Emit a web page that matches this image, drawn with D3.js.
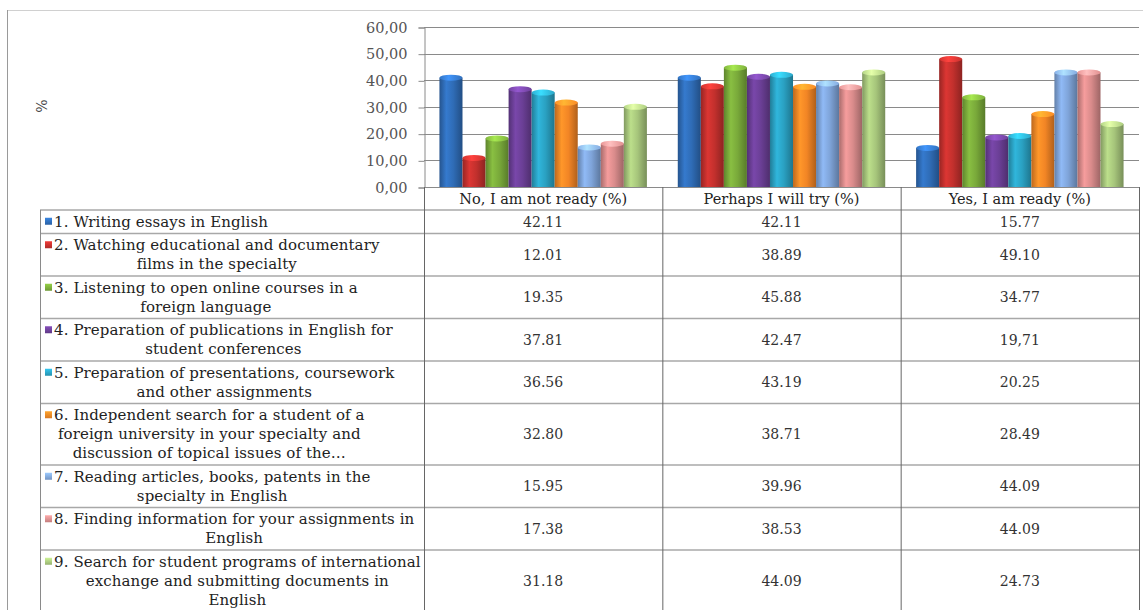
<!DOCTYPE html>
<html>
<head>
<meta charset="utf-8">
<script src="https://cdn.jsdelivr.net/npm/d3@7"></script>
<style>
  html, body { margin: 0; padding: 0; background: #fff; }
  svg { display: block; }
</style>
</head>
<body>
<svg id="chart" width="1143" height="610"></svg>
<script>
// Response categories (columns of the data table / bar groups)
const categories = ["No, I am not ready (%)", "Perhaps I will try (%)", "Yes, I am ready (%)"];

// Activities (series), as wrapped lines of the row labels
const activities = [
  ["1. Writing essays in English"],
  ["2. Watching educational and documentary", "films in the specialty"],
  ["3. Listening to open online courses in a", "foreign language"],
  ["4. Preparation of publications in English for", "student conferences"],
  ["5. Preparation of presentations, coursework", "and other assignments"],
  ["6. Independent search for a student of a", "foreign university in your specialty and", "discussion of topical issues of the\u2026"],
  ["7. Reading articles, books, patents in the", "specialty in English"],
  ["8. Finding information for your assignments in", "English"],
  ["9. Search for student programs of international", "exchange and submitting documents in", "English"]
];

// Percentages as printed in the table, one array per category
const notReady = ["42.11", "12.01", "19.35", "37.81", "36.56", "32.80", "15.95", "17.38", "31.18"];
const perhaps  = ["42.11", "38.89", "45.88", "42.47", "43.19", "38.71", "39.96", "38.53", "44.09"];
const ready    = ["15.77", "49.10", "34.77", "19,71", "20.25", "28.49", "44.09", "44.09", "24.73"];

// Value axis ticks
const yTicks = [0, 10, 20, 30, 40, 50, 60];

const seriesColors = ["#2f6cb6", "#c2302d", "#79a93a", "#6b3f96", "#2aa1c2", "#f28525", "#7fa4d9", "#d98b8b", "#a6c57b"];

const columns = [notReady, perhaps, ready];
const parseVal = s => +s.replace(",", ".");

const svg = d3.select("#chart");
const defs = svg.append("defs");

// Layout
const plot = { left: 424, right: 1139, top: 27, bottom: 187 };
const table = { left: 40, headerBottom: 210, lineH: 19, pad: 4.5 };
const serif = "'DejaVu Serif', serif";

// Outer frame
svg.append("line").attr("x1", 7).attr("x2", 1143).attr("y1", 10.5).attr("y2", 10.5)
  .attr("stroke", "#d0d0d0").attr("stroke-width", 1);
svg.append("line").attr("x1", 7.5).attr("x2", 7.5).attr("y1", 10).attr("y2", 610)
  .attr("stroke", "#9a9a9a").attr("stroke-width", 1);

// Scales
const x0 = d3.scaleBand().domain(d3.range(categories.length)).range([plot.left, plot.right]);
const x1 = d3.scaleBand().domain(d3.range(activities.length)).range([0, x0.bandwidth()]).paddingOuter(0.67);
const y = d3.scaleLinear().domain([0, 60]).range([plot.bottom, plot.top]);

const fmtTick = d3.formatLocale({ decimal: ",", thousands: " ", grouping: [3], currency: ["", ""] }).format(".2f");

// Gridlines
svg.append("g").selectAll("line").data(yTicks).join("line")
  .attr("x1", plot.left).attr("x2", plot.right)
  .attr("y1", d => Math.round(y(d)) + 0.5).attr("y2", d => Math.round(y(d)) + 0.5)
  .attr("stroke", "#8a8a8a").attr("stroke-width", 1);

// Value axis
const yAxis = d3.axisLeft(y).tickValues(yTicks).tickFormat(fmtTick).tickSize(6).tickPadding(11);
const gy = svg.append("g").attr("transform", `translate(${plot.left + 0.5},0.5)`).call(yAxis);
gy.select(".domain").attr("stroke", "#8a8a8a");
gy.selectAll(".tick line").attr("stroke", "#8a8a8a");
gy.selectAll(".tick text").attr("font-family", serif).attr("font-size", 14.5).attr("fill", "#555");

// Axis title
svg.append("text").attr("transform", "translate(47,106) rotate(-90)")
  .attr("text-anchor", "middle").attr("font-family", serif).attr("font-size", 14).attr("fill", "#444")
  .text("%");

// Bar gradients (cylinder-like shading)
seriesColors.forEach((c, i) => {
  const g = defs.append("linearGradient").attr("id", "bar" + i).attr("x1", "0").attr("x2", "1").attr("y1", "0").attr("y2", "0");
  const base = d3.color(c);
  g.append("stop").attr("offset", "0%").attr("stop-color", base.darker(0.7));
  g.append("stop").attr("offset", "30%").attr("stop-color", base.brighter(0.35));
  g.append("stop").attr("offset", "60%").attr("stop-color", base);
  g.append("stop").attr("offset", "100%").attr("stop-color", base.darker(0.9));
  const k = defs.append("linearGradient").attr("id", "cap" + i).attr("x1", "0").attr("x2", "1").attr("y1", "0").attr("y2", "0");
  k.append("stop").attr("offset", "0%").attr("stop-color", base.brighter(0.2));
  k.append("stop").attr("offset", "40%").attr("stop-color", base.brighter(0.9));
  k.append("stop").attr("offset", "100%").attr("stop-color", base.brighter(0.1));
});

// Bars
const barData = [];
columns.forEach((col, ci) => col.forEach((s, si) => barData.push({ ci, si, v: parseVal(s) })));

const bars = svg.append("g").selectAll("g").data(barData).join("g")
  .attr("transform", d => `translate(${x0(d.ci) + x1(d.si)},0)`);
const bw = x1.bandwidth();
const capR = 3;
bars.append("rect")
  .attr("x", 0).attr("width", bw)
  .attr("y", d => y(d.v) + capR).attr("height", d => y(0) - y(d.v) - capR)
  .attr("fill", d => `url(#bar${d.si})`);
bars.append("ellipse")
  .attr("cx", bw / 2).attr("cy", d => y(d.v) + capR).attr("rx", bw / 2).attr("ry", capR)
  .attr("fill", d => `url(#cap${d.si})`);

// Data table
const rowHeights = activities.map(lines => lines.length * table.lineH + table.pad);
const rowTops = [];
rowHeights.reduce((acc, h) => { rowTops.push(acc); return acc + h; }, table.headerBottom);
const tableBottom = table.headerBottom + d3.sum(rowHeights);

const tg = svg.append("g");

// Horizontal rules
[table.headerBottom, ...rowTops.slice(1)].forEach(yy => {
  tg.append("line").attr("x1", table.left).attr("x2", plot.right)
    .attr("y1", yy).attr("y2", yy).attr("stroke", "#a8a8a8").attr("stroke-width", 1.6);
});

// Vertical rules
tg.append("line").attr("x1", table.left + 0.5).attr("x2", table.left + 0.5)
  .attr("y1", table.headerBottom).attr("y2", tableBottom).attr("stroke", "#8a8a8a");
[0, 1, 2].forEach(ci => {
  tg.append("line").attr("x1", x0(ci) + 0.5).attr("x2", x0(ci) + 0.5)
    .attr("y1", plot.bottom).attr("y2", tableBottom).attr("stroke", "#666");
});
tg.append("line").attr("x1", plot.right + 0.5).attr("x2", plot.right + 0.5)
  .attr("y1", plot.bottom).attr("y2", tableBottom).attr("stroke", "#666");

// Category headers
tg.selectAll("text.cat").data(categories).join("text").attr("class", "cat")
  .attr("x", (d, i) => x0(i) + x0.bandwidth() / 2).attr("y", (plot.bottom + table.headerBottom) / 2 + 5)
  .attr("text-anchor", "middle").attr("font-family", serif).attr("font-size", 14.5).attr("fill", "#222")
  .text(d => d);

// Row labels with legend keys
activities.forEach((lines, si) => {
  const top = rowTops[si];
  const h = rowHeights[si];
  const firstY = top + (h - lines.length * table.lineH) / 2 + table.lineH / 2;
  const key = d3.color(seriesColors[si]);
  const kg = defs.append("linearGradient").attr("id", "key" + si).attr("x1", "0").attr("x2", "0").attr("y1", "0").attr("y2", "1");
  kg.append("stop").attr("offset", "0%").attr("stop-color", key.brighter(0.6));
  kg.append("stop").attr("offset", "100%").attr("stop-color", key.darker(0.3));
  tg.append("rect").attr("x", 45).attr("y", firstY - 4).attr("width", 7).attr("height", 7)
    .attr("fill", `url(#key${si})`);

  const textStart = 54;
  const texts = lines.map((ln, li) => tg.append("text")
    .attr("y", firstY + li * table.lineH + 5)
    .attr("font-family", serif).attr("font-size", 15).attr("letter-spacing", 0.1).attr("fill", "#222")
    .text(ln));
  const widths = texts.map(t => t.node().getComputedTextLength());
  const blockW = d3.max(widths);
  texts.forEach(t => t.attr("x", textStart + blockW / 2).attr("text-anchor", "middle"));

  // Values in each category column
  columns.forEach((col, ci) => {
    tg.append("text")
      .attr("x", x0(ci) + x0.bandwidth() / 2).attr("y", top + h / 2 + 5)
      .attr("text-anchor", "middle").attr("font-family", serif).attr("font-size", 14).attr("fill", "#333")
      .text(col[si]);
  });
});
</script>
</body>
</html>
